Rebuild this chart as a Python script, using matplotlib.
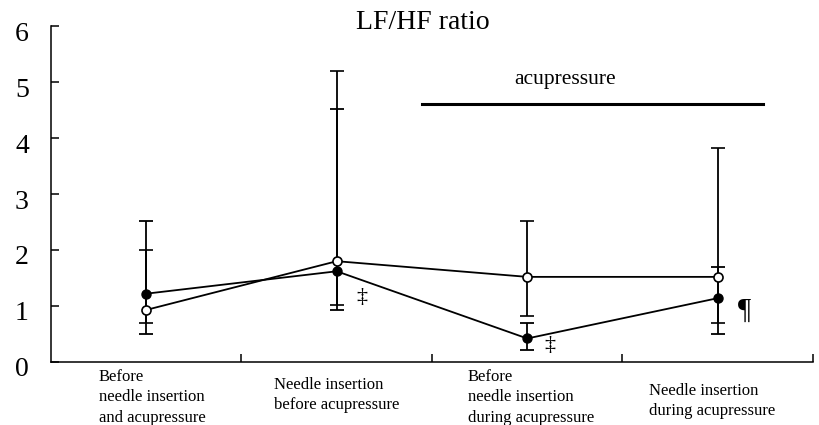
import numpy as np
import matplotlib
matplotlib.use("Agg")
import matplotlib.pyplot as plt
import matplotlib.transforms as mtransforms

plt.rcParams['font.family'] = ['Liberation Serif', 'DejaVu Serif']

# data
x_pos = [0.5, 1.5, 2.5, 3.5]
categories = ["Before\nneedle insertion\nand acupressure",
              "Needle insertion\nbefore acupressure",
              "Before\nneedle insertion\nduring acupressure",
              "Needle insertion\nduring acupressure"]

filled_mid = [1.22, 1.62, 0.42, 1.14]
filled_hi = [2.52, 4.52, 0.70, 1.70]
filled_lo = [0.50, 0.93, 0.21, 0.50]

open_mid = [0.93, 1.80, 1.52, 1.52]
open_hi = [2.00, 5.20, 2.52, 3.82]
open_lo = [0.70, 1.02, 0.82, 0.70]

marks = [(1.63, 1.16, "\u2021", 16), (2.62, 0.30, "\u2021", 16), (3.64, 0.91, "\u00b6", 21)]

fig = plt.figure(figsize=(8.2, 4.25), dpi=100)
ax = fig.add_axes([51/820, 63/425, 762/820, 336/425])

fm = np.array(filled_mid)
om = np.array(open_mid)
ax.errorbar(x_pos, fm, yerr=[fm - np.array(filled_lo), np.array(filled_hi) - fm],
            fmt='-o', color='black', mfc='black', mec='black', ms=6.5, lw=1.3,
            elinewidth=1.3, capsize=4.7, capthick=1.3, zorder=3)
ax.errorbar(x_pos, om, yerr=[om - np.array(open_lo), np.array(open_hi) - om],
            fmt='-o', color='black', mfc='white', mec='black', ms=6.5, lw=1.3,
            mew=1.2, elinewidth=1.3, capsize=4.7, capthick=1.3, zorder=4)

for x, y, s, fs in marks:
    ax.text(x, y, s, fontsize=fs, ha='center', va='center')

# acupressure period bar
ax.plot([1.95, 3.74], [4.61, 4.61], color='black', lw=2.2, clip_on=False)
ax.text(2.70, 5.04, "acupressure", fontsize=15.5, ha='center', va='center')

ax.text(1.95, 6.07, "LF/HF ratio", fontsize=20, ha='center', va='center', clip_on=False)

ax.set_xlim(0, 4)
ax.set_ylim(0, 6)
ax.set_yticks(range(7))
ax.set_xticks([1, 2, 3, 4])
ax.set_xticklabels([])
ax.tick_params(axis='both', direction='in', length=6, width=1.1, labelsize=20, pad=16)
ax.spines['top'].set_visible(False)
ax.spines['right'].set_visible(False)
for sp in ['left', 'bottom']:
    ax.spines[sp].set_linewidth(1.1)

offset = mtransforms.ScaledTranslation(0, -5/100, fig.dpi_scale_trans)
for lab in ax.get_yticklabels():
    lab.set_transform(lab.get_transform() + offset)

label_x = [0.252, 1.171, 2.189, 3.139]
label_y = [-0.13, -0.26, -0.13, -0.38]
for x, y, s in zip(label_x, label_y, categories):
    ax.text(x, y, s, fontsize=12, ha='left', va='top', linespacing=1.35, clip_on=False)

fig.savefig("out.png", dpi=100)
